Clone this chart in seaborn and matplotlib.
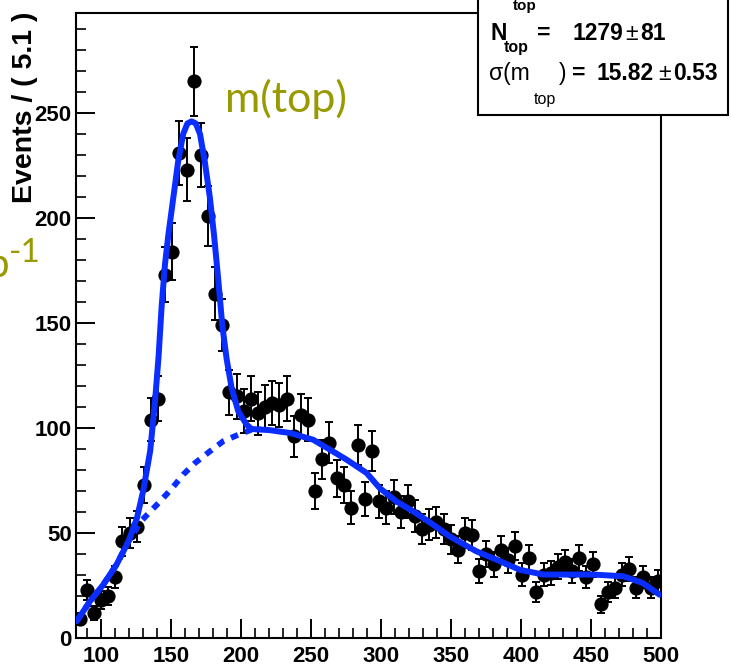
import numpy as np
import pandas as pd
import matplotlib
matplotlib.use("Agg")
import matplotlib.pyplot as plt
import seaborn as sns
from matplotlib.transforms import IdentityTransform, Bbox
from matplotlib.patches import Rectangle

# ---------------- data ----------------
bin_low = 82.0
bin_width = 5.1
counts = [9, 23, 12, 18, 20, 29, 46, 50, 53, 73,
          104, 114, 173, 184, 231, 223, 265, 230, 201, 164,
          149, 117, 115, 108, 114, 107, 110, 112, 111, 114,
          96, 106, 104, 70, 85, 93, 76, 73, 62, 92,
          66, 89, 65, 62, 67, 60, 65, 58, 52, 54,
          55, 52, 47, 42, 50, 49, 32, 40, 35, 42,
          37, 44, 30, 38, 22, 30, 31, 34, 36, 32,
          38, 29, 35, 16, 22, 24, 30, 33, 24, 29,
          24, 27]

fit_total_x = [82.5, 92, 101.5, 111, 119.5, 125.5, 130, 135, 138.5, 141,
               143.2, 145.6, 148, 151.5, 155, 158.6, 161.6, 164.6, 167.6, 170.6,
               174, 177.7, 180.6, 183.6, 186.5, 189.6, 193.2, 197.9, 203.9, 207.5,
               220, 235, 251.5, 263.4, 275.4, 289.6, 299, 311, 323, 335,
               349, 368, 382.5, 399, 416, 435, 451.5, 473, 487, 499]
fit_total_y = [8, 17.5, 25.4, 35, 46, 57, 70, 89, 113, 134,
               158, 178, 192, 209.5, 227, 240, 245, 246, 245, 240,
               227, 209.5, 192, 171, 149, 133, 119, 108, 101.6, 99.5,
               99, 97.6, 94.4, 89.7, 84.9, 78.6, 71.4, 65, 60.3, 55,
               48.4, 41.3, 37.3, 32.5, 30.2, 30.2, 30.2, 29.4, 26.2, 20.6]

fit_bkg_x = [82.5, 92, 101.5, 111, 119.5, 129, 141, 150.4, 158.6, 167,
             177.7, 187.2, 199, 207.5, 214]
fit_bkg_y = [8, 17.5, 25.4, 35, 46, 56, 64.3, 71.1, 77.8, 83.3,
             88.9, 93.7, 97.1, 99.2, 99.5]

x_ticks = [100, 150, 200, 250, 300, 350, 400, 450, 500]
y_ticks = [0, 50, 100, 150, 200, 250]
y_title = "Events / ( 5.1 )"
overlay_label = "m(top)"

# ---------------- style ----------------
sns.set_theme(style="ticks")
plt.rcParams["font.family"] = ["Liberation Sans", "DejaVu Sans"]
plt.rcParams["axes.linewidth"] = 1.5

W, H = 731, 670
fig = plt.figure(figsize=(W / 100, H / 100), dpi=100)
fig.patch.set_facecolor("white")
ax_l, ax_r, ax_t, ax_b = 76, 661, 13, 638
ax = fig.add_axes([ax_l / W, (H - ax_b) / H, (ax_r - ax_l) / W, (ax_b - ax_t) / H])

BLUE = "#0a2eff"
centers = bin_low + bin_width * (np.arange(len(counts)) + 0.5)
df = pd.DataFrame({"m": centers, "n": counts})

ax.errorbar(df["m"], df["n"], yerr=np.sqrt(df["n"]), fmt="none", ecolor="black",
            elinewidth=1.4, capsize=3, capthick=1.4, zorder=2)
sns.scatterplot(data=df, x="m", y="n", ax=ax, color="black", s=105,
                edgecolor="black", linewidth=0, zorder=3, legend=False)

bkg = pd.DataFrame({"x": fit_bkg_x, "y": fit_bkg_y})
sns.lineplot(data=bkg, x="x", y="y", ax=ax, sort=False, estimator=None,
             color=BLUE, linewidth=4.2, zorder=4)
ax.lines[-1].set_dashes([1.3, 1.3])
tot = pd.DataFrame({"x": fit_total_x, "y": fit_total_y})
sns.lineplot(data=tot, x="x", y="y", ax=ax, sort=False, estimator=None,
             color=BLUE, linewidth=4.3, zorder=5)

ax.set_xlim(82, 500)
ax.set_ylim(0, 297.6)
ax.set_xticks(x_ticks)
ax.set_yticks(y_ticks)
ax.set_xticks(np.arange(90, 501, 10), minor=True)
ax.set_yticks(np.arange(0, 297, 10), minor=True)
ax.set_xlabel("")
ax.set_ylabel("")
for s in ["top", "right", "left", "bottom"]:
    ax.spines[s].set_visible(True)
    ax.spines[s].set_color("black")
    ax.spines[s].set_linewidth(1.5)
ax.tick_params(axis="both", which="major", direction="in", length=14, width=1.4,
               color="black", labelsize=16, labelcolor="black")
ax.tick_params(axis="both", which="minor", direction="in", length=7, width=1.2,
               color="black")
ax.tick_params(axis="x", which="major", pad=5.5)
ax.tick_params(axis="y", which="major", pad=3)
ax.tick_params(top=False, right=False, which="both")
for lbl in ax.get_xticklabels() + ax.get_yticklabels():
    lbl.set_fontweight("bold")
ax.grid(False)

# y title
fig.text(25 / W, (H - 12) / H, y_title, rotation=90, ha="center", va="top",
         fontsize=20.5, fontweight="bold", color="black")

# olive slide texts
OLIVE = "#999900"
fig.text(225, H - 112, overlay_label, transform=IdentityTransform(), fontsize=31,
         family=["Lato", "DejaVu Sans"], color=OLIVE, ha="left", va="baseline")
fig.text(9, H - 277, "b", transform=IdentityTransform(), fontsize=29,
         family=["Lato", "DejaVu Sans"], color=OLIVE, ha="right", va="baseline")
fig.text(9, H - 262, "-1", transform=IdentityTransform(), fontsize=24,
         family=["Lato", "DejaVu Sans"], color=OLIVE, ha="left", va="baseline")

# fit-result box
box = Rectangle((478, H - 115), 250, 140, transform=IdentityTransform(),
                facecolor="white", edgecolor="black", linewidth=1.5, zorder=20)
fig.patches.append(box)
clip = Bbox.from_extents(478, 0, 728, H)


def put(x, y_img, s, size, weight="bold"):
    t = fig.text(x, H - y_img, s, transform=IdentityTransform(), fontsize=size,
                 fontweight=weight, color="black", ha="left", va="baseline", zorder=21)
    t.set_clip_box(clip)
    t.set_clip_on(True)
    return t

# partially visible first row
put(491, -2, "m", 16)
put(513, 10, "top", 11)
# row N_top
put(490, 40, "N", 16.5)
put(504, 52, "top", 11.5)
put(537, 40, "=", 16.5)
put(572, 40, "1279", 16.5)
put(625, 40, "\u00b1", 16.5, "normal")
put(640, 40, "81", 16.5)
# row sigma
put(489, 80, "\u03c3(m", 16.5, "normal")
put(534, 104, "top", 11.5, "normal")
put(559, 80, ")", 16.5, "normal")
put(572, 80, "=", 16.5)
put(597, 80, "15.82", 16.5)
put(658, 80, "\u00b1", 16.5, "normal")
put(673, 80, "0.53", 16.5)

fig.savefig("out.png", dpi=100, facecolor="white")
